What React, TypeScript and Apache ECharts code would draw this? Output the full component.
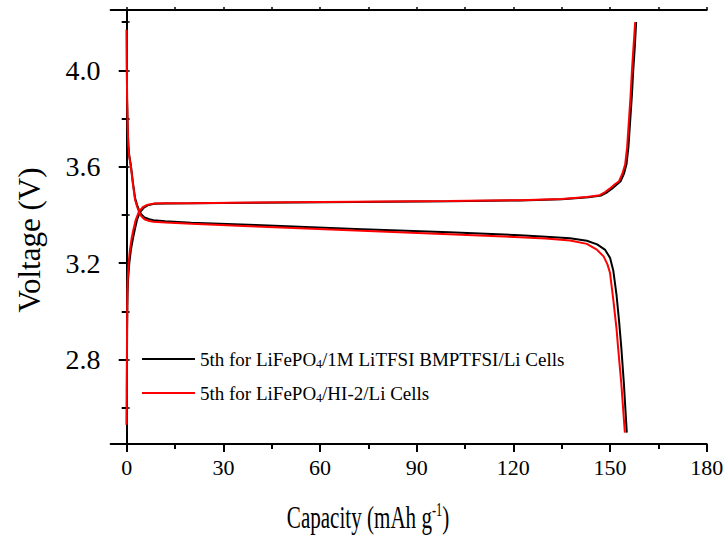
import React, { useEffect, useRef } from "react";
import * as echarts from "echarts";

const legendNames = [
  "5th for LiFePO4/1M LiTFSI BMPTFSI/Li Cells",
  "5th for LiFePO4/HI-2/Li Cells",
];

const xLabelValues = [0, 30, 60, 90, 120, 150, 180];
const xMinorValues = [15, 45, 75, 105, 135, 165];
const xAllValues = [0, 15, 30, 45, 60, 75, 90, 105, 120, 135, 150, 165, 180];
const yLabelValues = [2.8, 3.2, 3.6, 4.0];
const yMinorValues = [2.6, 3.0, 3.4, 3.8, 4.2];
const yAllValues = [2.6, 2.8, 3.0, 3.2, 3.4, 3.6, 3.8, 4.0, 4.2];

const blackCharge = [
  [0, 2.53], [0.04, 2.66], [0.08, 2.8], [0.13, 2.92], [0.2, 3.02], [0.28, 3.08],
  [0.4, 3.13], [0.8, 3.2], [1.3, 3.255], [1.9, 3.3], [2.5, 3.338], [3.2, 3.38],
  [4.1, 3.412], [5.3, 3.43], [6.5, 3.44], [8.5, 3.446], [12, 3.447], [20, 3.448],
  [40, 3.451], [71, 3.454], [100, 3.457], [122, 3.46], [135, 3.465], [143.3, 3.473],
  [147.3, 3.481], [149.1, 3.494], [150.6, 3.509], [152.1, 3.526], [153.3, 3.54],
  [154.3, 3.57], [155.1, 3.61], [155.7, 3.68], [156.3, 3.8], [156.8, 3.9],
  [157.2, 4.0], [157.7, 4.1], [158.1, 4.2],
];

const blackDischarge = [
  [0, 4.168], [0.05, 4.0], [0.12, 3.88], [0.3, 3.76], [0.5, 3.69], [0.8, 3.645],
  [1.3, 3.605], [1.9, 3.537], [2.6, 3.47], [3.2, 3.442], [3.8, 3.42], [4.5, 3.403],
  [5.5, 3.39], [7, 3.382], [8.3, 3.378], [12, 3.374], [20, 3.368], [40, 3.358],
  [71, 3.342], [100, 3.328], [122, 3.316], [130, 3.31], [137.6, 3.303], [142.8, 3.293],
  [146, 3.278], [148.5, 3.255], [150, 3.222], [151, 3.17], [152, 3.07], [152.8, 2.96],
  [153.5, 2.85], [154.3, 2.7], [155.2, 2.497],
];

const redCharge = [
  [0, 2.53], [0.03, 2.66], [0.06, 2.8], [0.1, 2.92], [0.15, 3.02], [0.2, 3.08],
  [0.3, 3.13], [0.6, 3.2], [1.0, 3.255], [1.5, 3.3], [2.05, 3.338], [2.8, 3.38],
  [3.8, 3.414], [5, 3.432], [6.2, 3.441], [8.3, 3.447], [12, 3.448], [20, 3.449],
  [40, 3.452], [71, 3.455], [100, 3.458], [122, 3.461], [135, 3.466], [142.8, 3.474],
  [146.8, 3.482], [148.5, 3.495], [150, 3.51], [151.5, 3.527], [152.8, 3.54],
  [153.8, 3.57], [154.7, 3.61], [155.3, 3.68], [155.9, 3.8], [156.4, 3.9],
  [156.8, 4.0], [157.3, 4.1], [157.8, 4.2],
];

const redDischarge = [
  [0, 4.168], [0.05, 4.0], [0.12, 3.88], [0.3, 3.76], [0.5, 3.69], [0.8, 3.64],
  [1.3, 3.6], [1.9, 3.53], [2.6, 3.462], [3.2, 3.435], [3.8, 3.414], [4.5, 3.395],
  [5.5, 3.382], [7, 3.375], [8.3, 3.372], [12, 3.369], [20, 3.363], [40, 3.352],
  [71, 3.335], [100, 3.32], [122, 3.308], [130, 3.302], [137.6, 3.294], [142.8, 3.28],
  [145.9, 3.256], [148, 3.228], [149.2, 3.195], [150, 3.159], [151, 3.05], [152, 2.93],
  [152.5, 2.85], [153.5, 2.7], [154.6, 2.497],
];

const FONT = "Liberation Serif";

export default function App() {
  const ref = useRef<HTMLDivElement>(null);
  useEffect(() => {
    if (!ref.current) return;
    const chart = echarts.init(ref.current, null, { renderer: "svg" });
    const lineSeries = (name: string, data: number[][], color: string) => ({
      type: "line",
      name,
      data,
      showSymbol: false,
      symbol: "none",
      lineStyle: { color, width: 2 },
      itemStyle: { color },
      xAxisIndex: 0,
      yAxisIndex: 0,
    });
    const baseX = { type: "value", min: -5, max: 180, splitLine: { show: false } };
    const baseY = { type: "value", min: 2.45, max: 4.25, splitLine: { show: false } };
    const legendCommon = {
      left: 142,
      padding: 0,
      icon: "rect",
      itemWidth: 53,
      itemHeight: 2,
      selectedMode: false,
      formatter: (n: string) => n.replace("LiFePO4", "LiFePO{sub|4}"),
      textStyle: {
        fontFamily: FONT,
        fontSize: 19,
        color: "#000",
        lineHeight: 22,
        rich: { sub: { fontFamily: FONT, fontSize: 12, color: "#000", padding: [10, 0, 0, 0] } },
      },
    };
    chart.setOption({
      animation: false,
      backgroundColor: "#fff",
      grid: { left: 110.6, right: 21.3, top: 10, bottom: 95 },
      legend: [
        { ...legendCommon, top: 348, data: [legendNames[0]] },
        { ...legendCommon, top: 382, data: [legendNames[1]] },
      ],
      xAxis: [
        {
          ...baseX,
          position: "bottom",
          axisLine: { show: true, lineStyle: { color: "#000", width: 2 } },
          axisTick: { show: true, customValues: xLabelValues, length: 8, lineStyle: { color: "#000", width: 2 } },
          axisLabel: { customValues: xLabelValues, fontFamily: FONT, fontSize: 22, color: "#000", margin: 12 },
        },
        {
          ...baseX,
          position: "bottom",
          axisLine: { show: false },
          axisTick: { show: true, customValues: xMinorValues, length: 5, lineStyle: { color: "#000", width: 2 } },
          axisLabel: { show: false },
        },
        {
          ...baseX,
          position: "top",
          axisLine: { show: true, lineStyle: { color: "#000", width: 2 } },
          axisTick: { show: true, customValues: xAllValues, length: 3, lineStyle: { color: "#000", width: 1.5 } },
          axisLabel: { show: false },
        },
      ],
      yAxis: [
        {
          ...baseY,
          position: "left",
          axisLine: { show: true, lineStyle: { color: "#000", width: 2 } },
          axisTick: { show: true, customValues: yLabelValues, length: 8, lineStyle: { color: "#000", width: 2 } },
          axisLabel: {
            customValues: yLabelValues,
            formatter: (v: number) => v.toFixed(1),
            fontFamily: FONT,
            fontSize: 28,
            color: "#000",
            margin: 10,
          },
        },
        {
          ...baseY,
          position: "left",
          axisLine: { show: false },
          axisTick: { show: true, customValues: yMinorValues, length: 5, lineStyle: { color: "#000", width: 2 } },
          axisLabel: { show: false },
        },
        {
          ...baseY,
          position: "right",
          axisLine: { show: true, lineStyle: { color: "#000", width: 2 } },
          axisTick: { show: true, customValues: yAllValues, length: 3, lineStyle: { color: "#000", width: 1.5 } },
          axisLabel: { show: false },
        },
      ],
      graphic: [
        {
          type: "text",
          x: 29,
          y: 240,
          rotation: Math.PI / 2,
          style: {
            text: "Voltage (V)",
            fontFamily: FONT,
            fontSize: 31,
            fill: "#000",
            align: "center",
            verticalAlign: "middle",
          },
        },
        {
          type: "text",
          x: 368,
          y: 517,
          scaleX: 0.68,
          style: {
            text: "Capacity (mAh g{sup|-1})",
            fontFamily: FONT,
            fontSize: 31,
            fill: "#000",
            align: "center",
            verticalAlign: "middle",
            rich: { sup: { fontFamily: FONT, fontSize: 18, fill: "#000", padding: [0, 0, 14, 0] } },
          },
        },
      ],
      series: [
        lineSeries(legendNames[0], blackCharge, "#000000"),
        lineSeries(legendNames[0], blackDischarge, "#000000"),
        lineSeries(legendNames[1], redCharge, "#ff0000"),
        lineSeries(legendNames[1], redDischarge, "#ff0000"),
      ],
    });
    return () => chart.dispose();
  }, []);
  return (
    <div
      ref={ref}
      style={{ position: "absolute", left: 0, top: 0, width: 728, height: 539 }}
    />
  );
}
